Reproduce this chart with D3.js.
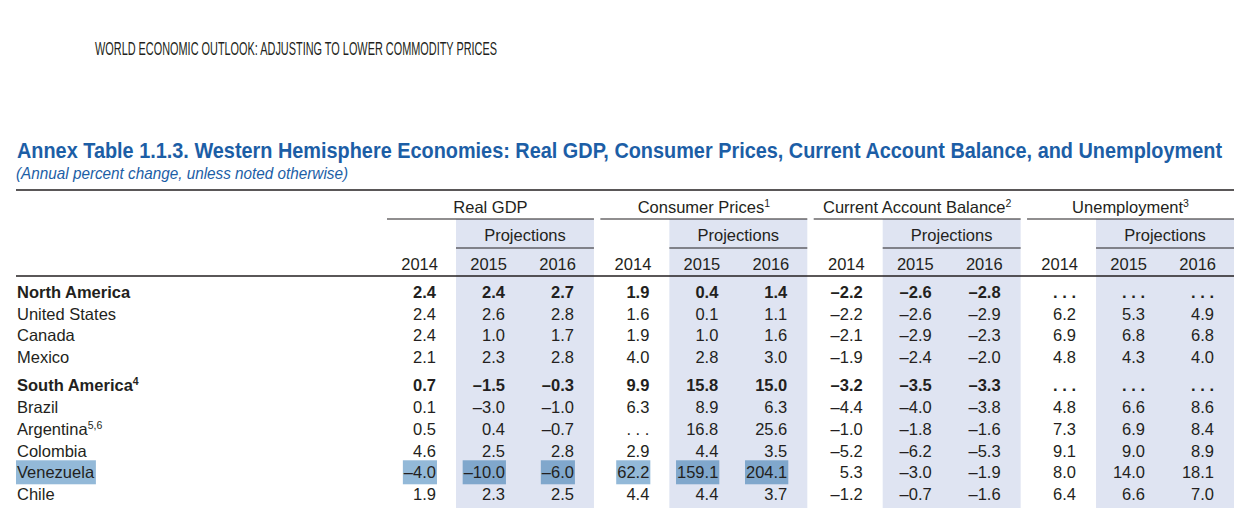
<!DOCTYPE html>
<html>
<head>
<meta charset="utf-8">
<script src="https://cdn.jsdelivr.net/npm/d3@7"></script>
<style>
  html, body { margin: 0; padding: 0; background: #fff; }
  svg { display: block; }
  text { font-family: "Liberation Sans", Arial, sans-serif; fill: #231f20; }
</style>
</head>
<body>
<svg id="chart" width="1248" height="508"></svg>
<script>
// ---------- data ----------
const runningHead = "WORLD ECONOMIC OUTLOOK: ADJUSTING TO LOWER COMMODITY PRICES";
const titleText = "Annex Table 1.1.3. Western Hemisphere Economies: Real GDP, Consumer Prices, Current Account Balance, and Unemployment";
const subtitleText = "(Annual percent change, unless noted otherwise)";

const groups = ["Real GDP", "Consumer Prices", "Current Account Balance", "Unemployment"];
const groupSup = ["", "1", "2", "3"];
const years = ["2014", "2015", "2016"];
const projectionLabel = "Projections";

const rowLabels = ["North America", "United States", "Canada", "Mexico",
                   "South America", "Brazil", "Argentina", "Colombia", "Venezuela", "Chile"];
const rowSup = ["", "", "", "", "4", "", "5,6", "", "", ""];
const rowBlock = [0, 0, 0, 0, 1, 1, 1, 1, 1, 1];
const boldRows = ["North America", "South America"];
const highlightRow = "Venezuela";
const highlightGroups = ["Real GDP", "Consumer Prices"];

const realGDP2014 = [2.4, 2.4, 2.4, 2.1, 0.7, 0.1, 0.5, 4.6, -4.0, 1.9];
const realGDP2015 = [2.4, 2.6, 1.0, 2.3, -1.5, -3.0, 0.4, 2.5, -10.0, 2.3];
const realGDP2016 = [2.7, 2.8, 1.7, 2.8, -0.3, -1.0, -0.7, 2.8, -6.0, 2.5];
const cpi2014 = [1.9, 1.6, 1.9, 4.0, 9.9, 6.3, null, 2.9, 62.2, 4.4];
const cpi2015 = [0.4, 0.1, 1.0, 2.8, 15.8, 8.9, 16.8, 4.4, 159.1, 4.4];
const cpi2016 = [1.4, 1.1, 1.6, 3.0, 15.0, 6.3, 25.6, 3.5, 204.1, 3.7];
const cab2014 = [-2.2, -2.2, -2.1, -1.9, -3.2, -4.4, -1.0, -5.2, 5.3, -1.2];
const cab2015 = [-2.6, -2.6, -2.9, -2.4, -3.5, -4.0, -1.8, -6.2, -3.0, -0.7];
const cab2016 = [-2.8, -2.9, -2.3, -2.0, -3.3, -3.8, -1.6, -5.3, -1.9, -1.6];
const unemp2014 = [null, 6.2, 6.9, 4.8, null, 4.8, 7.3, 9.1, 8.0, 6.4];
const unemp2015 = [null, 5.3, 6.8, 4.3, null, 6.6, 6.9, 9.0, 14.0, 6.6];
const unemp2016 = [null, 4.9, 6.8, 4.0, null, 8.6, 8.4, 8.9, 18.1, 7.0];

const seriesByGroup = [
  [realGDP2014, realGDP2015, realGDP2016],
  [cpi2014, cpi2015, cpi2016],
  [cab2014, cab2015, cab2016],
  [unemp2014, unemp2015, unemp2016]
];

// ---------- layout / style ----------
const W = 1248, H = 508;
const ink = "#231f20";
const blue = "#1c5ea6";
const shade = "#dfe4f2";
const hiPlain = "#93b9d8";
const hiShaded = "#80a7cc";
const bodySize = 16.5;
const groupGapRows = 0.3;

const svg = d3.select("#chart");
svg.append("rect").attr("width", W).attr("height", H).attr("fill", "#fff");

const loc = d3.formatLocale({decimal: ".", thousands: ",", grouping: [3], currency: ["", ""], minus: "\u2013"});
const fmt = loc.format(".1f");
const fmtVal = v => (v === null ? ". . ." : fmt(v));

// scales
const gx = d3.scaleBand().domain(groups).range([387, 1234]).paddingInner(0.03);
const cx = d3.scaleBand().domain(years).range([0, gx.bandwidth()]);
const colRight = (g, y) => gx(g) + cx(y) + cx.bandwidth() - 20;
const rowIndex = rowLabels.map((d, i) => i + rowBlock[i] * groupGapRows);
const ry = d3.scaleLinear().domain([0, 9 + groupGapRows]).range([298, 500]);

const tableLeft = 16, tableRight = gx.range()[1];
const yTopRule = 190, yGroupText = 213, yGroupRule = 219, yProjText = 241, yProjRule = 248,
      yYearText = 270, yHeadRule = 276;

// running head
svg.append("text").attr("x", 95).attr("y", 55)
  .style("font-family", "'Liberation Sans Narrow','Liberation Sans',sans-serif")
  .style("font-size", "18.5px").attr("textLength", 402).attr("lengthAdjust", "spacingAndGlyphs")
  .text(runningHead);

// title (condensed look: smaller font stretched vertically) + subtitle
svg.append("text").attr("transform", "translate(17,158) scale(1,1.13)")
  .style("font-family", "'Liberation Sans Narrow','Liberation Sans',sans-serif")
  .style("font-size", "20px").style("font-weight", "bold").style("fill", blue)
  .attr("textLength", 1205).attr("lengthAdjust", "spacingAndGlyphs")
  .text(titleText);
svg.append("text").attr("x", 16).attr("y", 179)
  .style("font-family", "'Liberation Sans Narrow','Liberation Sans',sans-serif")
  .style("font-size", "17px").style("font-style", "italic").style("fill", blue)
  .attr("textLength", 332).attr("lengthAdjust", "spacingAndGlyphs")
  .text(subtitleText);

// projection shading
const projYears = years.slice(1);
svg.append("g").selectAll("rect").data(groups).join("rect")
  .attr("x", g => gx(g) + cx(projYears[0]))
  .attr("y", yGroupRule)
  .attr("width", g => cx.bandwidth() * projYears.length)
  .attr("height", H - yGroupRule)
  .attr("fill", shade);

// rules
svg.append("line").attr("x1", tableLeft).attr("x2", tableRight).attr("y1", yTopRule).attr("y2", yTopRule)
  .attr("stroke", ink).attr("stroke-width", 1.5);
svg.append("line").attr("x1", tableLeft).attr("x2", tableRight).attr("y1", yHeadRule).attr("y2", yHeadRule)
  .attr("stroke", ink).attr("stroke-width", 1.5);
svg.append("g").selectAll("line").data(groups).join("line")
  .attr("x1", g => gx(g)).attr("x2", g => gx(g) + gx.bandwidth())
  .attr("y1", yGroupRule).attr("y2", yGroupRule).attr("stroke", ink).attr("stroke-width", 1.2);
svg.append("g").selectAll("line").data(groups).join("line")
  .attr("x1", g => gx(g) + cx(projYears[0])).attr("x2", g => gx(g) + gx.bandwidth())
  .attr("y1", yProjRule).attr("y2", yProjRule).attr("stroke", ink).attr("stroke-width", 1.2);

// group headers
const gh = svg.append("g").selectAll("text").data(groups).join("text")
  .attr("x", g => gx(g) + gx.bandwidth() / 2).attr("y", yGroupText)
  .attr("text-anchor", "middle").style("font-size", bodySize + "px");
gh.append("tspan").text(g => g);
gh.append("tspan").attr("dy", -6).style("font-size", "10.5px").text((g, i) => groupSup[i]);

// projections
svg.append("g").selectAll("text").data(groups).join("text")
  .attr("x", g => gx(g) + cx(projYears[0]) + cx.bandwidth() * projYears.length / 2)
  .attr("y", yProjText).attr("text-anchor", "middle").style("font-size", bodySize + "px")
  .text(projectionLabel);

// years
const yearCells = groups.flatMap(g => years.map(y => ({g, y})));
svg.append("g").selectAll("text").data(yearCells).join("text")
  .attr("x", d => colRight(d.g, d.y) + 2).attr("y", yYearText)
  .attr("text-anchor", "end").style("font-size", bodySize + "px").text(d => d.y);

// highlight layer (under text)
const hiIdx = rowLabels.indexOf(highlightRow);
const hiLayer = svg.append("g");

// row labels
const rl = svg.append("g").selectAll("text").data(rowLabels).join("text")
  .attr("x", 17).attr("y", (d, i) => ry(rowIndex[i]))
  .style("font-size", bodySize + "px")
  .style("font-weight", d => boldRows.includes(d) ? "bold" : "normal");
rl.append("tspan").text(d => d);
rl.append("tspan").attr("dy", -6).style("font-size", "10.5px").text((d, i) => rowSup[i]);

// cells
const cells = [];
groups.forEach((g, gi) => years.forEach((y, yi) => rowLabels.forEach((r, ri) => {
  cells.push({g, y, r, ri, v: seriesByGroup[gi][yi][ri], proj: yi > 0});
})));
const cellText = svg.append("g").selectAll("text").data(cells).join("text")
  .attr("x", d => colRight(d.g, d.y)).attr("y", d => ry(rowIndex[d.ri]))
  .attr("text-anchor", "end").style("font-size", bodySize + "px")
  .style("font-weight", d => boldRows.includes(d.r) ? "bold" : "normal")
  .text(d => fmtVal(d.v));

// highlight rectangles from text boxes
rl.filter(d => d === highlightRow).each(function() {
  const b = this.getBBox();
  hiLayer.append("rect").attr("x", b.x - 1).attr("y", ry(rowIndex[hiIdx]) - 18)
    .attr("width", b.width + 2).attr("height", 24).attr("fill", hiPlain);
});
cellText.filter(d => d.r === highlightRow && highlightGroups.includes(d.g)).each(function(d) {
  const b = this.getBBox();
  hiLayer.append("rect").attr("x", b.x - 1).attr("y", ry(rowIndex[d.ri]) - 18)
    .attr("width", b.width + 2).attr("height", 24).attr("fill", d.proj ? hiShaded : hiPlain);
});
</script>
</body>
</html>
